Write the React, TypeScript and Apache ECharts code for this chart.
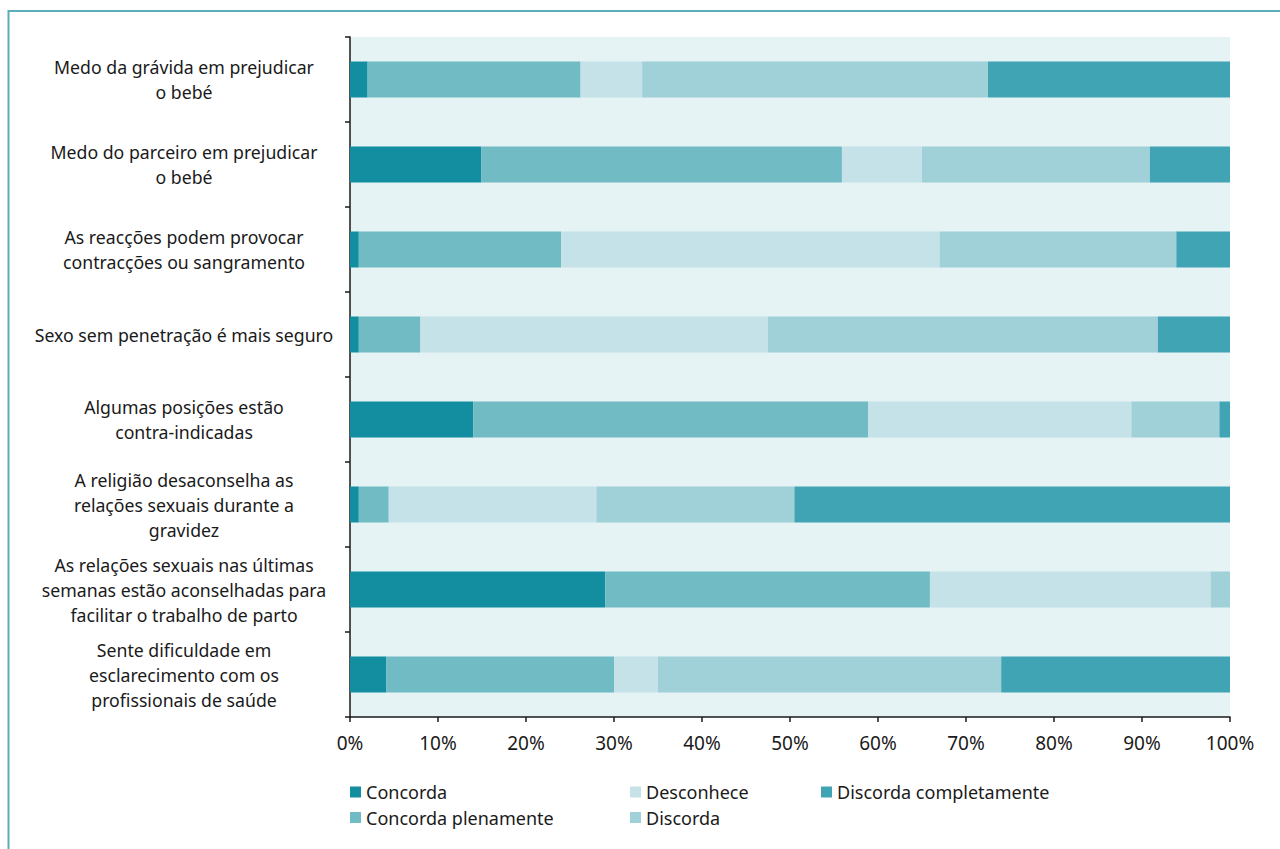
import React, { useEffect, useRef } from "react";
import * as echarts from "echarts";

const categories = [
  "Medo da grávida em prejudicar\no bebé",
  "Medo do parceiro em prejudicar\no bebé",
  "As reacções podem provocar\ncontracções ou sangramento",
  "Sexo sem penetração é mais seguro",
  "Algumas posições estão\ncontra-indicadas",
  "A religião desaconselha as\nrelações sexuais durante a\ngravidez",
  "As relações sexuais nas últimas\nsemanas estão aconselhadas para\nfacilitar o trabalho de parto",
  "Sente dificuldade em\nesclarecimento com os\nprofissionais de saúde",
];

const seriesNames = [
  "Concorda",
  "Concorda plenamente",
  "Desconhece",
  "Discorda",
  "Discorda completamente",
];

const concorda = [2.0, 14.9, 1.0, 1.0, 14.0, 1.0, 29.0, 4.1];
const concordaPlenamente = [24.2, 41.0, 23.0, 7.0, 44.9, 3.4, 36.9, 25.9];
const desconhece = [7.0, 9.1, 43.0, 39.5, 29.9, 23.6, 31.9, 5.0];
const discorda = [39.3, 25.9, 26.9, 44.3, 10.0, 22.5, 2.2, 39.0];
const discordaCompletamente = [27.5, 9.1, 6.1, 8.2, 1.2, 49.5, 0, 26.0];

const xTicks = [0, 10, 20, 30, 40, 50, 60, 70, 80, 90, 100];

const colors = ["#128ea0", "#71bbc4", "#c4e2e8", "#a0d0d8", "#41a4b4"];

const FONT = "Noto Sans";

export default function App() {
  const ref = useRef<HTMLDivElement>(null);
  useEffect(() => {
    if (!ref.current) return;
    const chart = echarts.init(ref.current, undefined, { renderer: "svg" });
    const values = [concorda, concordaPlenamente, desconhece, discorda, discordaCompletamente];
    const legendStyle = {
      orient: "vertical" as const,
      itemWidth: 11,
      itemHeight: 11,
      itemGap: 7.5,
      icon: "rect",
      textStyle: { fontFamily: FONT, fontSize: 18, lineHeight: 18, color: "#1a1a1a" },
      padding: 0,
    };
    chart.setOption({
      animation: false,
      backgroundColor: "#ffffff",
      textStyle: { fontFamily: FONT },
      grid: {
        left: 350,
        right: 50,
        top: 37,
        bottom: 132,
        show: true,
        backgroundColor: "#e5f3f5",
        borderWidth: 0,
      },
      legend: [
        { ...legendStyle, left: 350, top: 783, data: [seriesNames[0], seriesNames[1]] },
        { ...legendStyle, left: 630, top: 783, data: [seriesNames[2], seriesNames[3]] },
        { ...legendStyle, left: 821, top: 783, data: [seriesNames[4]] },
      ],
      xAxis: {
        type: "value",
        min: 0,
        max: 100,
        interval: 10,
        splitLine: { show: false },
        axisLine: { show: true, lineStyle: { color: "#1a1a1a", width: 1.5 } },
        axisTick: { show: true, length: 5, lineStyle: { color: "#1a1a1a", width: 1.5 } },
        axisLabel: {
          margin: 16,
          fontFamily: FONT,
          fontSize: 19,
          color: "#1a1a1a",
          formatter: (v: number) => (xTicks.includes(v) ? `${v}%` : ""),
        },
      },
      yAxis: {
        type: "category",
        inverse: true,
        data: categories,
        axisLine: { show: true, lineStyle: { color: "#1a1a1a", width: 1.5 } },
        axisTick: { show: true, length: 5, lineStyle: { color: "#1a1a1a", width: 1.5 } },
        axisLabel: {
          align: "center",
          margin: 166,
          fontFamily: FONT,
          fontSize: 17.7,
          lineHeight: 25,
          color: "#1a1a1a",
        },
      },
      series: seriesNames.map((name, i) => ({
        name,
        type: "bar",
        stack: "total",
        barWidth: 36,
        data: values[i],
        itemStyle: { color: colors[i] },
      })),
      graphic: [
        {
          type: "rect",
          shape: { x: 8.5, y: 11, width: 1400, height: 1000 },
          style: { fill: "none", stroke: "#5aaeba", lineWidth: 2 },
          silent: true,
        },
      ],
    });
    return () => chart.dispose();
  }, []);
  return (
    <div
      ref={ref}
      style={{ position: "fixed", left: 0, top: 0, width: 1280, height: 849 }}
    />
  );
}
